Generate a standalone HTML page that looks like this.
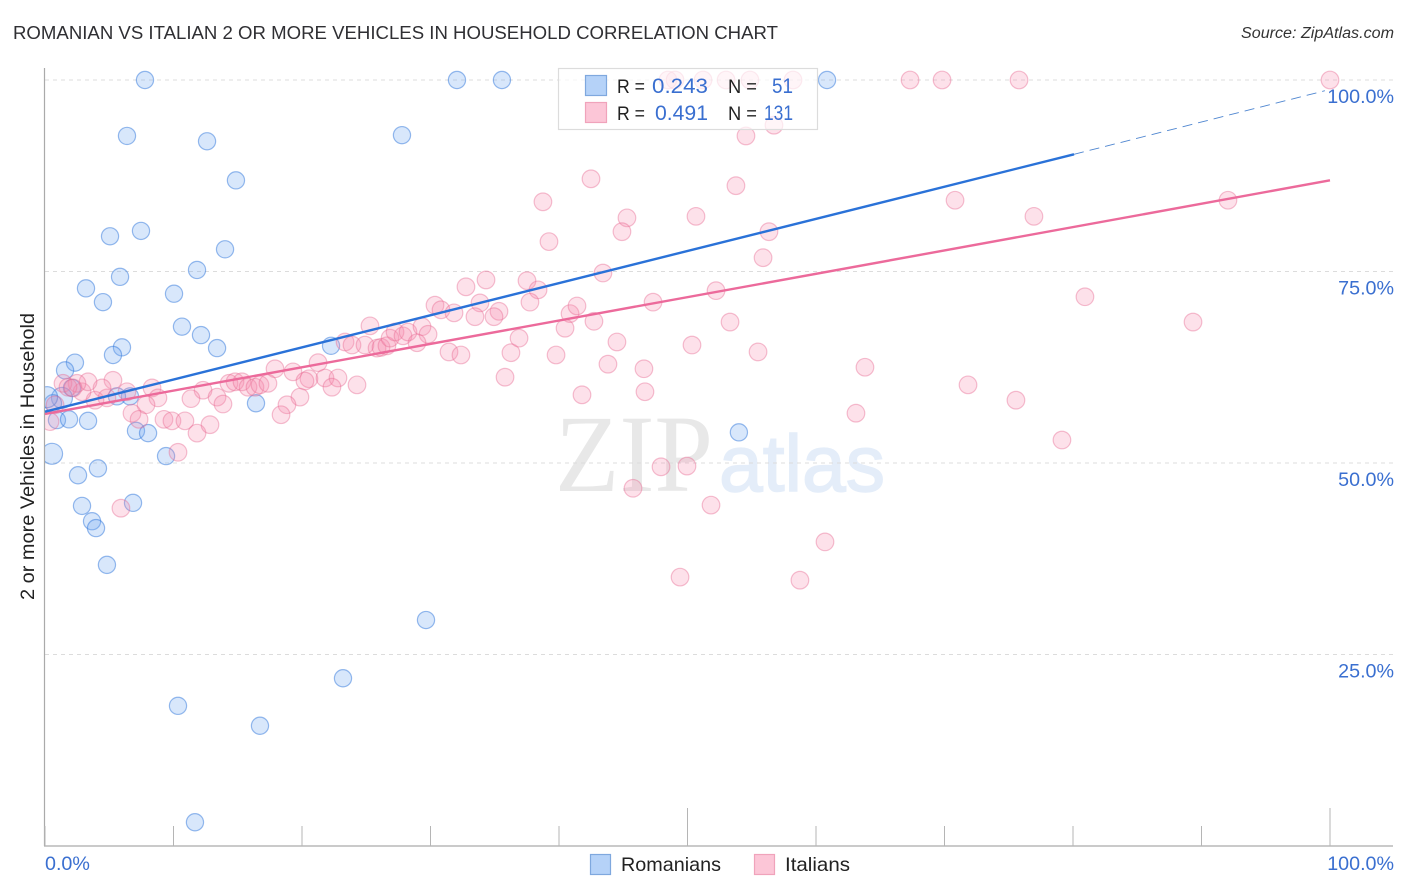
<!DOCTYPE html>
<html lang="en">
<head>
<meta charset="utf-8">
<title>Romanian vs Italian 2 or More Vehicles in Household Correlation Chart</title>
<style>
html,body{margin:0;padding:0;background:#fff;}
body{width:1406px;height:892px;overflow:hidden;font-family:"Liberation Sans",sans-serif;}
svg{display:block;}
text{font-family:"Liberation Sans",sans-serif;}
</style>
</head>
<body>
<svg id="chart" xmlns="http://www.w3.org/2000/svg" width="1406" height="892" viewBox="0 0 1406 892">
  <defs>
    <clipPath id="plot-clip"><rect x="45" y="0" width="1361" height="892"/></clipPath>
  </defs>
  <text x="13" y="39" font-size="18.6" fill="#2f2f33" textLength="765" lengthAdjust="spacingAndGlyphs">ROMANIAN VS ITALIAN 2 OR MORE VEHICLES IN HOUSEHOLD CORRELATION CHART</text>
  <text x="1241" y="38" font-size="15.5" font-style="italic" fill="#333" textLength="153" lengthAdjust="spacingAndGlyphs">Source: ZipAtlas.com</text>
  <g>
    <text x="555" y="491" font-size="110" fill="#e8e8e8" textLength="158" lengthAdjust="spacingAndGlyphs" style="font-family:'Liberation Serif',serif">ZIP</text>
    <text x="719" y="491" font-size="80" fill="#e4edf9" stroke="#e4edf9" stroke-width="1.5" textLength="166" lengthAdjust="spacingAndGlyphs">atlas</text>
  </g>
  <g id="grid"></g>
  <g id="axes"></g>
  <g clip-path="url(#plot-clip)">
    <g id="romanian-points"></g>
    <g id="italian-points"></g>
  </g>
  <g id="trends"></g>
  <text transform="translate(34 456.5) rotate(-90)" font-size="19" fill="#222" text-anchor="middle" textLength="287" lengthAdjust="spacingAndGlyphs">2 or more Vehicles in Household</text>

  <g>
    <rect x="558.5" y="68.5" width="259" height="61" fill="#fff" fill-opacity="0.68" stroke="#dcdcdc" stroke-width="1.2"/>
    <rect x="585.5" y="75.5" width="21" height="20" fill="#b5d2f8" stroke="#7fa8de" stroke-width="1.2"/>
    <rect x="585.5" y="102.5" width="21" height="20" fill="#fcc6d7" stroke="#f0a3bb" stroke-width="1.2"/>
    <text x="617" y="93" font-size="19" fill="#222" textLength="28" lengthAdjust="spacingAndGlyphs">R =</text>
    <text x="652" y="93" font-size="21" fill="#3a6fd0" textLength="56" lengthAdjust="spacingAndGlyphs">0.243</text>
    <text x="728" y="93" font-size="19" fill="#222" textLength="29" lengthAdjust="spacingAndGlyphs">N =</text>
    <text x="772" y="93" font-size="21" fill="#3a6fd0" textLength="21" lengthAdjust="spacingAndGlyphs">51</text>
    <text x="617" y="120" font-size="19" fill="#222" textLength="28" lengthAdjust="spacingAndGlyphs">R =</text>
    <text x="655" y="120" font-size="21" fill="#3a6fd0" textLength="53" lengthAdjust="spacingAndGlyphs">0.491</text>
    <text x="728" y="120" font-size="19" fill="#222" textLength="29" lengthAdjust="spacingAndGlyphs">N =</text>
    <text x="764" y="120" font-size="21" fill="#3a6fd0" textLength="29" lengthAdjust="spacingAndGlyphs">131</text>
  </g>

  <g>
    <g>
      <rect x="590.5" y="854.5" width="20" height="20" fill="#b5d2f8" stroke="#7fa8de" stroke-width="1.2"/>
      <text x="621" y="871" font-size="19.5" fill="#222" textLength="100" lengthAdjust="spacingAndGlyphs">Romanians</text>
    </g>
    <g>
      <rect x="754.5" y="854.5" width="20" height="20" fill="#fcc6d7" stroke="#f0a3bb" stroke-width="1.2"/>
      <text x="785" y="871" font-size="19.5" fill="#222" textLength="65" lengthAdjust="spacingAndGlyphs">Italians</text>
    </g>
  </g>
</svg>
<script>
const yTicks = [25, 50, 75, 100];
const yTickLabels = ['25.0%', '50.0%', '75.0%', '100.0%'];
const xTicks = [0, 10, 20, 30, 40, 50, 60, 70, 80, 90, 100];
const xEndLabels = ['0.0%', '100.0%'];
const xEndValues = [0, 100];

const romanianX = [7.78,32.06,35.56,60.86,6.38,27.78,12.61,14.86,5.06,7.47,14.01,11.83,5.84,3.19,4.51,10.04,10.66,12.14,13.39,5.99,5.29,2.33,1.56,22.26,16.42,6.61,2.10,1.32,0.62,0.16,0.93,1.87,3.35,7.08,8.02,9.42,0.55,4.12,2.57,6.85,2.88,3.66,3.97,4.82,29.65,23.19,10.35,16.73,11.67,54.0,5.6];
const romanianY = [100,100,100,100,92.7,92.8,92.0,86.9,79.6,80.3,77.9,75.2,74.3,72.8,71.0,72.1,67.8,66.7,65.0,65.1,64.1,63.1,62.1,65.3,57.8,58.7,59.8,58.5,57.8,58.6,55.6,55.7,55.5,54.2,53.9,50.9,51.2,49.3,48.4,44.8,44.4,42.4,41.5,36.7,29.5,21.9,18.3,15.7,3.1,54.0,58.7];
const romanianLarge = [27, 29, 36];

const italianX = [48.48,49.03,51.21,53.0,54.86,58.21,67.32,69.81,75.8,100,54.55,56.73,42.49,53.77,38.75,70.82,92.06,50.66,76.96,45.29,44.9,56.34,39.22,55.88,43.42,34.32,37.51,38.37,52.22,32.76,80.93,30.35,47.32,37.74,33.85,30.82,31.83,35.33,34.94,33.46,40.86,41.4,42.72,40.47,53.31,89.34,25.29,23.35,23.89,24.9,25.84,26.15,26.61,26.85,27.24,27.86,28.25,29.34,29.81,28.95,31.44,32.37,36.26,36.89,39.77,35.8,17.9,19.3,21.25,20.54,20.23,21.79,22.8,22.33,24.28,19.84,18.83,18.37,14.32,14.79,15.33,15.8,16.34,16.73,17.35,12.3,13.39,13.85,11.36,8.33,8.79,7.86,6.38,5.29,4.82,3.89,4.44,2.88,3.35,2.49,1.4,1.79,2.18,6.77,7.32,9.26,9.88,10.89,11.83,12.84,10.35,5.91,0.39,0.78,71.83,75.56,79.14,63.11,63.81,55.49,50.35,44.51,43.81,46.61,46.69,41.79,47.94,49.96,45.76,51.83,60.7,49.42,58.75];
const italianY = [100,100,100,100,100,100,100,100,100,100,92.7,94.1,87.1,86.2,84.1,84.3,84.3,82.2,82.2,82.0,80.2,80.2,78.9,76.8,74.8,73.9,73.8,72.6,72.5,73.0,71.7,70.6,71.0,71.0,70.9,70.0,69.6,69.8,69.1,69.1,69.5,70.5,68.5,67.6,68.4,68.4,67.9,65.8,65.4,65.4,65.0,65.1,65.3,66.3,67.1,66.6,67.1,67.8,66.8,65.7,64.5,64.1,64.4,66.3,64.1,61.2,62.3,61.9,63.1,61.0,60.7,61.1,61.1,59.9,60.2,58.6,57.6,56.3,60.4,60.6,60.6,59.9,59.9,60.2,60.4,59.5,58.6,57.7,58.4,59.8,58.5,57.6,59.3,60.8,58.5,58.2,59.8,59.3,60.6,60.4,60.4,59.9,59.8,56.5,55.7,55.7,55.5,55.5,53.9,55.0,51.4,44.1,55.4,57.6,60.2,58.2,53.0,56.5,62.5,64.5,65.4,65.8,62.9,62.3,59.3,58.9,49.5,49.6,46.7,44.5,39.7,35.1,34.7];

const romanianTrendX = [0, 80.08];
const romanianTrendY = [56.7, 90.3];
const romanianDashX = [80.08, 99.6];
const romanianDashY = [90.3, 98.6];
const italianTrendX = [0, 100];
const italianTrendY = [56.4, 86.9];

const NS = 'http://www.w3.org/2000/svg';
const xScale = v => 45 + v * 12.85;
const yScale = v => 846 - v * 7.66;

function make(tag, parentId, props) {
  const el = document.createElementNS(NS, tag);
  for (const key in props) el.setAttribute(key, props[key]);
  document.getElementById(parentId).appendChild(el);
  return el;
}

yTicks.forEach(function (t, i) {
  const line = make('line', 'grid', {x1: 45, x2: 1393, y1: yScale(t), y2: yScale(t), stroke: '#dcdcdc', 'stroke-width': 1, 'stroke-dasharray': '4 4'});
  
  
  const label = make('text', 'axes', {x: 1394, y: yScale(t) + 23, 'font-size': 19.7, fill: '#3a6fd0', 'text-anchor': 'end'});
  label.textContent = yTickLabels[i];
  
  
});

const yAxisLine = make('line', 'axes', {x1: 44.5, x2: 44.5, y1: 68, y2: 846, stroke: '#aaa', 'stroke-width': 1.2});


const xAxisLine = make('line', 'axes', {x1: 44, x2: 1393, y1: 846, y2: 846, stroke: '#aaa', 'stroke-width': 1.2});



xTicks.forEach(function (t) {
  const tall = t === 50 || t === 100;
  const tick = make('line', 'axes', {x1: xScale(t), x2: xScale(t), y1: tall ? 808 : 826, y2: 846, stroke: '#b5b5b5', 'stroke-width': 1});
  
  
});

xEndLabels.forEach(function (text, i) {
  const atStart = xEndValues[i] === 0;
  const label = make('text', 'axes', {x: atStart ? xScale(xEndValues[i]) : 1394, y: 870, 'font-size': 19.7, fill: '#3a6fd0', 'text-anchor': atStart ? 'start' : 'end'});
  label.textContent = text;
  
  
});

romanianX.forEach(function (x, i) {
  const large = romanianLarge.indexOf(i) >= 0;
  const dot = make('circle', 'romanian-points', {cx: xScale(x), cy: yScale(romanianY[i]), r: large ? 10.5 : 8.6, fill: 'rgba(110,165,240,0.27)', stroke: 'rgba(50,120,220,0.5)', 'stroke-width': 1.2});
  
  
});

italianX.forEach(function (x, i) {
  const dot = make('circle', 'italian-points', {cx: xScale(x), cy: yScale(italianY[i]), r: 8.8, fill: 'rgba(246,135,170,0.25)', stroke: 'rgba(232,105,145,0.42)', 'stroke-width': 1.2});
  
  
});

const italianTrend = make('line', 'trends', {x1: xScale(italianTrendX[0]), y1: yScale(italianTrendY[0]), x2: xScale(italianTrendX[1]), y2: yScale(italianTrendY[1]), stroke: '#ec6a9b', 'stroke-width': 2.4});


const romanianTrend = make('line', 'trends', {x1: xScale(romanianTrendX[0]), y1: yScale(romanianTrendY[0]), x2: xScale(romanianTrendX[1]), y2: yScale(romanianTrendY[1]), stroke: '#2a72d8', 'stroke-width': 2.4});


const romanianDash = make('line', 'trends', {x1: xScale(romanianDashX[0]), y1: yScale(romanianDashY[0]), x2: xScale(romanianDashX[1]), y2: yScale(romanianDashY[1]), stroke: '#4f86d0', 'stroke-width': 0.9, 'stroke-dasharray': '10 6'});


</script>
</body>
</html>
